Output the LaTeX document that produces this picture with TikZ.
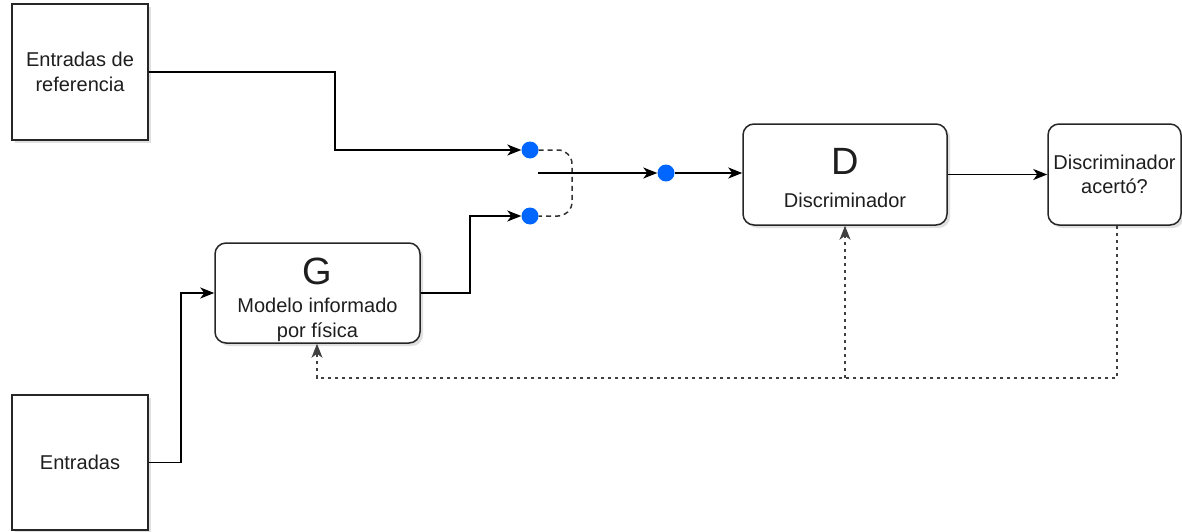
\documentclass[tikz,border=0pt]{standalone}
\usepackage{fontspec}
\setmainfont{Liberation Sans}
\usetikzlibrary{arrows.meta,shadows}
\definecolor{dotblue}{RGB}{0,102,255}
\definecolor{txt}{RGB}{30,30,30}
\begin{document}
\begin{tikzpicture}[x=1pt,y=-1pt,
  every node/.style={text=txt},
  shad/.style={drop shadow={shadow xshift=3pt,shadow yshift=-3pt,opacity=0.2,fill=black!60}},
  sqbox/.style={draw=black!85,line width=1.5pt,fill=white,shad,align=center,inner sep=0pt,
     font=\fontsize{20pt}{24.5pt}\selectfont},
  rbox/.style={sqbox,rounded corners=11pt},
  lbl/.style={inner sep=0pt,font=\fontsize{20pt}{24.5pt}\selectfont,align=center},
  big/.style={inner sep=0pt,font=\fontsize{38pt}{40pt}\selectfont},
  conn/.style={draw=black,line width=1.5pt,-{Stealth[length=14pt,width=11pt,inset=4pt]}},
  dots/.style={draw=black!75,line width=1.2pt,dash pattern=on 3pt off 4pt,-{Stealth[length=14pt,width=11pt,inset=4pt]}},
  swdash/.style={draw=black!80,line width=1.5pt,dash pattern=on 5pt off 4pt,rounded corners=14pt},
  bdot/.style={circle,fill=dotblue,inner sep=0pt,minimum size=17pt},
]
\useasboundingbox (0,0) rectangle (1182,532);

% boxes
\node[sqbox,minimum width=136pt,minimum height=136pt] (ref) at (80,72) {Entradas de\\referencia};
\node[sqbox,minimum width=136pt,minimum height=135pt] (ent) at (80,462.5) {Entradas};
\node[rbox,minimum width=205pt,minimum height=100pt] (G) at (317.5,293) {};
\node[big] (Gt) at (317.5,271) {G};
\node[lbl] (Gl) at (317.5,320) {Modelo informado\\por física};
\node[rbox,minimum width=204pt,minimum height=101pt] (D) at (845,174.5) {};
\node[big] (Dt) at (845,161) {D};
\node[lbl] (Dl) at (845,200) {Discriminador};
\node[rbox,minimum width=133pt,minimum height=101pt] (acc) at (1114.5,174.5) {Discriminador\\acertó?};

% switch
\node[bdot] (s1) at (530,150) {};
\node[bdot] (s2) at (530,216) {};
\node[bdot] (s3) at (666,173) {};
\coordinate (sw) at (538,173);
\draw[swdash] (s1.east) -- (572,150) -- (572,216) -- (s2.east);

% connectors
\draw[conn] (ref.east) -- (335,72) -- (335,150) -- (s1.west);
\draw[conn] (ent.east) -- (181,462.5) -- (181,293) -- (G.west);
\draw[conn] (G.east) -- (470,293) -- (470,216) -- (s2.west);
\draw[conn] (sw) -- (s3.west);
\draw[conn] (s3.east) -- (s3.east -| D.west);
\draw[conn] (D.east) -- (acc.west);

% feedback
\coordinate (fbr) at (1117,378);
\coordinate (fbm) at (845,378);
\coordinate (fbl) at (317,378);
\draw[dots] (acc.south -| fbr) -- (fbr) -- (fbl) -- (G.south -| fbl);
\draw[dots] (fbm) -- (D.south);
\end{tikzpicture}
\end{document}
